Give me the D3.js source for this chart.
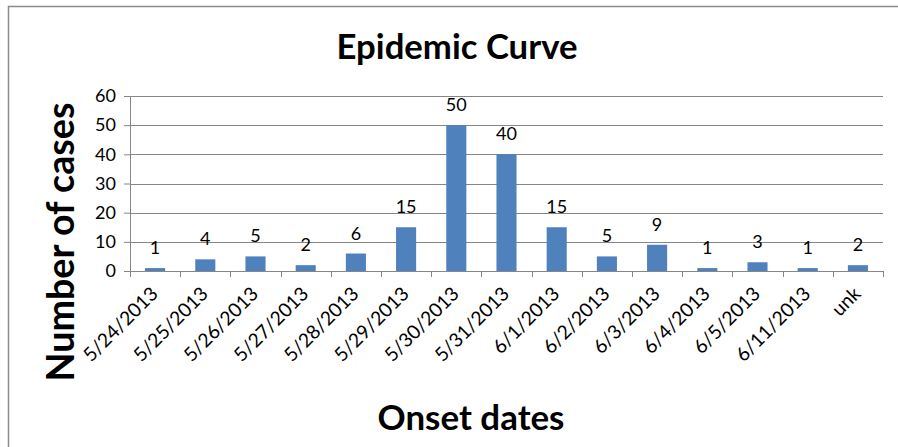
<!DOCTYPE html>
<html>
<head>
<meta charset="utf-8">
<script src="https://cdn.jsdelivr.net/npm/d3@7"></script>
<style>
  body { margin: 0; background: #fff; }
  text { font-family: Lato, "Open Sans", sans-serif; fill: #000; }
</style>
</head>
<body>
<div id="chart"></div>
<script>
// chart data
const onsetDates = ["5/24/2013", "5/25/2013", "5/26/2013", "5/27/2013", "5/28/2013", "5/29/2013",
    "5/30/2013", "5/31/2013", "6/1/2013", "6/2/2013", "6/3/2013", "6/4/2013", "6/5/2013", "6/11/2013", "unk"];
const caseCounts = [1, 4, 5, 2, 6, 15, 50, 40, 15, 5, 9, 1, 3, 1, 2];
const yTicks = [0, 10, 20, 30, 40, 50, 60];

const width = 898, height = 447;
const margin = {top: 96, right: 14, bottom: 176, left: 130};
const plotW = 883 - margin.left;
const plotH = 271 - margin.top;

const svg = d3.select("#chart").append("svg")
    .attr("width", width)
    .attr("height", height);

// outer chart border (runs off the right and bottom edges)
svg.append("rect")
    .attr("x", 8.5).attr("y", 6.5)
    .attr("width", 1000).attr("height", 1000)
    .attr("fill", "none")
    .attr("stroke", "#8c8c8c")
    .attr("stroke-width", 1.5);

const g = svg.append("g")
    .attr("transform", "translate(" + margin.left + "," + margin.top + ")");

const x = d3.scaleBand()
    .domain(onsetDates)
    .range([0, plotW])
    .paddingInner(0.6)
    .paddingOuter(0.3);

const y = d3.scaleLinear()
    .domain([0, 60])
    .range([plotH, 0]);

// gridlines
g.selectAll(".grid")
    .data(yTicks.filter(d => d > 0))
    .enter().append("line")
    .attr("class", "grid")
    .attr("x1", 0).attr("x2", plotW)
    .attr("y1", d => Math.round(y(d)) + 0.5)
    .attr("y2", d => Math.round(y(d)) + 0.5)
    .attr("stroke", "#868686")
    .attr("stroke-width", 1);

// y axis
const yAxis = d3.axisLeft(y).tickValues(yTicks).tickSize(6).tickPadding(8);
const yAxisG = g.append("g").call(yAxis);
yAxisG.select(".domain").attr("stroke", "#868686");
yAxisG.selectAll(".tick line").attr("stroke", "#868686");
yAxisG.selectAll("text")
    .style("font-size", "18px")
    .attr("fill", "#000");

// bars
g.selectAll(".bar")
    .data(caseCounts)
    .enter().append("rect")
    .attr("class", "bar")
    .attr("x", (d, i) => x(onsetDates[i]))
    .attr("y", d => y(d))
    .attr("width", x.bandwidth())
    .attr("height", d => plotH - y(d))
    .attr("fill", "#4f81bd");

// value labels
g.selectAll(".val")
    .data(caseCounts)
    .enter().append("text")
    .attr("class", "val")
    .attr("x", (d, i) => x(onsetDates[i]) + x.bandwidth() / 2)
    .attr("y", d => y(d) - 14)
    .attr("text-anchor", "middle")
    .style("font-size", "18px")
    .text(d => d);

// x axis, ticks at band edges
const step = x.step();
const xAxisG = g.append("g").attr("transform", "translate(0," + plotH + ")");
xAxisG.append("line")
    .attr("x1", 0).attr("x2", plotW)
    .attr("y1", 0.5).attr("y2", 0.5)
    .attr("stroke", "#868686");
xAxisG.selectAll(".xtick")
    .data(d3.range(onsetDates.length + 1))
    .enter().append("line")
    .attr("x1", i => Math.round(i * step) + 0.5)
    .attr("x2", i => Math.round(i * step) + 0.5)
    .attr("y1", 0).attr("y2", 6)
    .attr("stroke", "#868686");
const xLabels = xAxisG.selectAll(".xlabel")
    .data(onsetDates)
    .enter().append("text")
    .attr("class", "xlabel")
    .attr("text-anchor", "end")
    .style("font-size", "16px")
    .attr("transform", d => "translate(" + (x(d) + x.bandwidth() / 2 + 4) + ",24) rotate(-45)")
    .text(d => d);
// size the date labels so "5/24/2013" runs about 96px
const lblLen = xLabels.node().getComputedTextLength();
xLabels.style("font-size", (16 * 96 / lblLen) + "px");

// fit a bold title to a measured width
function fitText(sel, targetWidth) {
    const len = sel.node().getComputedTextLength();
    const fs = parseFloat(sel.style("font-size"));
    sel.style("font-size", (fs * targetWidth / len) + "px");
}

const title = svg.append("text")
    .attr("x", 457).attr("y", 59)
    .attr("text-anchor", "middle")
    .style("font-weight", "bold")
    .style("font-size", "30px")
    .text("Epidemic Curve");
fitText(title, 241);

const xTitle = svg.append("text")
    .attr("x", 471).attr("y", 430)
    .attr("text-anchor", "middle")
    .style("font-weight", "bold")
    .style("font-size", "30px")
    .text("Onset dates");
fitText(xTitle, 187);

const yTitle = svg.append("text")
    .attr("transform", "translate(74,242) rotate(-90)")
    .attr("text-anchor", "middle")
    .style("font-weight", "bold")
    .style("font-size", "30px")
    .text("Number of cases");
fitText(yTitle, 279);
</script>
</body>
</html>
